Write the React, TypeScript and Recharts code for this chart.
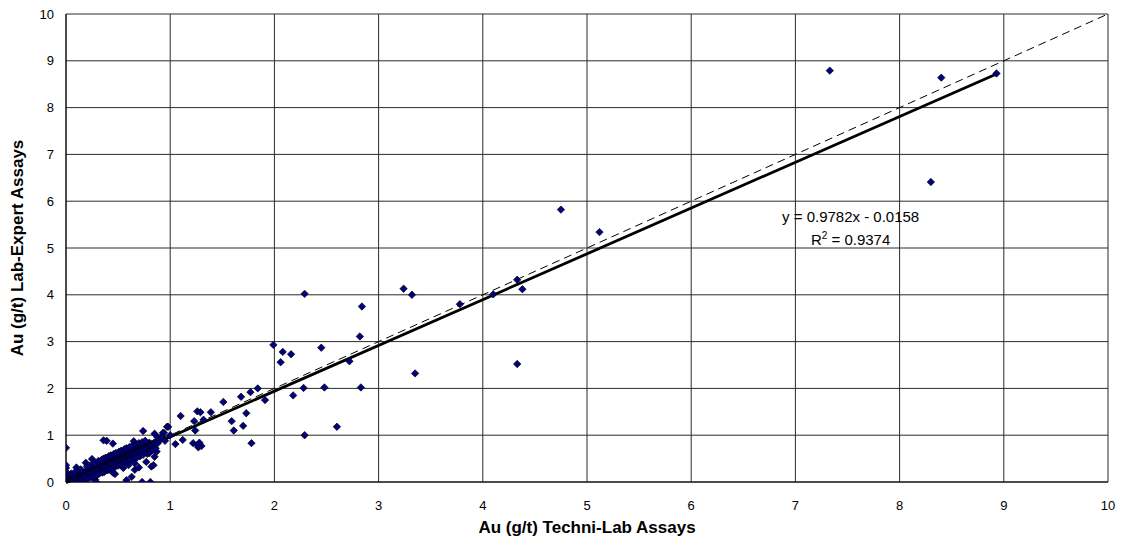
import React from 'react';
import { ScatterChart, Scatter, XAxis, YAxis, CartesianGrid, ReferenceLine, ReferenceDot } from 'recharts';

// Techni-Lab (x) vs Lab-Expert (y) gold assays, g/t
const lowGradePairs: [number, number][] = [
  [0, 0], [0, 0.03], [0, 0.08], [0, 0.15], [0, 0.22], [0, 0.3], [0, 0.36], [0, 0.73], [0, 0.01],
  [0.01, 0.02], [0.01, 0.06], [0.01, 0], [0.02, 0.01], [0.02, 0.04], [0.02, 0.1],
  [0.03, 0], [0.03, 0.05], [0.03, 0.02], [0.04, 0.03], [0.04, 0.08], [0.04, 0],
  [0.05, 0.02], [0.05, 0.06], [0.05, 0.12], [0.06, 0.04], [0.06, 0.09], [0.06, 0],
  [0.07, 0.05], [0.07, 0.1], [0.07, 0.02], [0.08, 0.07], [0.08, 0.03], [0.08, 0.13],
  [0.09, 0.08], [0.09, 0.11], [0.09, 0], [0.1, 0.31], [0.1, 0.09], [0.1, 0.14], [0.1, 0.05],
  [0.11, 0.1], [0.11, 0.07], [0.12, 0.12], [0.12, 0], [0.12, 0.16], [0.13, 0.11], [0.13, 0.18],
  [0.14, 0.13], [0.14, 0.08], [0.15, 0.15], [0.15, 0.22], [0.15, 0.1], [0.16, 0.14], [0.16, 0.18],
  [0.17, 0.16], [0.17, 0.12], [0.17, 0.02], [0.18, 0.17], [0.18, 0.21], [0.19, 0.41], [0.19, 0.18],
  [0.19, 0.14], [0.2, 0.2], [0.2, 0.24], [0.21, 0.19], [0.21, 0.15], [0.22, 0.21], [0.22, 0.26],
  [0.23, 0.22], [0.23, 0.18], [0.23, 0.29], [0.24, 0.24], [0.24, 0.2], [0.25, 0.49], [0.25, 0.25],
  [0.25, 0.28], [0.26, 0.23], [0.26, 0.3], [0.27, 0.26], [0.27, 0.21], [0.28, 0.27], [0.28, 0.32],
  [0.28, 0.05], [0.29, 0.28], [0.29, 0], [0.29, 0.24], [0.3, 0.3], [0.3, 0.34], [0.31, 0.29],
  [0.31, 0.26], [0.32, 0.31], [0.32, 0.36], [0.33, 0.33], [0.33, 0.28], [0.34, 0.32], [0.34, 0.38],
  [0.35, 0.35], [0.35, 0.3], [0.35, 0.42], [0.36, 0.89], [0.36, 0.34], [0.36, 0.38], [0.37, 0.36],
  [0.37, 0.31], [0.38, 0.37], [0.38, 0.42], [0.38, 0.25], [0.39, 0.88], [0.39, 0.38], [0.39, 0.34],
  [0.4, 0.4], [0.4, 0.45], [0.41, 0.39], [0.41, 0.35], [0.42, 0.41], [0.42, 0.46], [0.43, 0.42],
  [0.43, 0.38], [0.44, 0.44], [0.44, 0.5], [0.45, 0.82], [0.45, 0.43], [0.45, 0.38], [0.46, 0.45],
  [0.46, 0.49], [0.47, 0.17], [0.47, 0.46], [0.47, 0.42], [0.48, 0.47], [0.48, 0.52], [0.49, 0.48],
  [0.49, 0.43], [0.5, 0.5], [0.5, 0.55], [0.5, 0.45], [0.51, 0.49], [0.51, 0.53], [0.52, 0.51],
  [0.52, 0.46], [0.53, 0.52], [0.53, 0.57], [0.54, 0.53], [0.54, 0.49], [0.55, 0.55], [0.55, 0.6],
  [0.55, 0.5], [0.56, 0.54], [0.56, 0.58], [0.57, 0.56], [0.57, 0.51], [0.58, 0.04], [0.58, 0.57],
  [0.58, 0.62], [0.59, 0.58], [0.59, 0.53], [0.6, 0.6], [0.6, 0.64], [0.6, 0.55], [0.61, 0.59],
  [0.61, 0.56], [0.62, 0.61], [0.62, 0.66], [0.63, 0.11], [0.63, 0.62], [0.63, 0.58], [0.64, 0.63],
  [0.64, 0.68], [0.65, 0.87], [0.65, 0.64], [0.65, 0.6], [0.66, 0.26], [0.66, 0.65], [0.66, 0.7],
  [0.67, 0.66], [0.67, 0.62], [0.68, 0.67], [0.68, 0.72], [0.69, 0.68], [0.69, 0.63], [0.7, 0.31],
  [0.7, 0.69], [0.7, 0.74], [0.71, 0.7], [0.71, 0.65], [0.72, 0.71], [0.72, 0.76], [0.73, 0],
  [0.73, 0.72], [0.73, 0.67], [0.74, 1.09], [0.74, 0.73], [0.75, 0.74], [0.75, 0.69], [0.76, 0.75],
  [0.76, 0.8], [0.77, 0.43], [0.77, 0.76], [0.78, 0.77], [0.78, 0.72], [0.79, 0.78], [0.8, 0.79],
  [0.8, 0.84], [0.81, 0], [0.81, 0.8], [0.82, 0.33], [0.82, 0.81], [0.84, 0.36], [0.84, 0.83],
  [0.85, 0.54], [0.85, 1.03], [0.85, 0.84], [0.87, 0.65], [0.87, 0.86], [0.88, 0.83], [0.9, 0.93],
  [0.9, 0.9], [0.92, 0.97], [0.93, 1.05], [0.95, 0.88], [0.97, 1.18], [1.0, 1.0],
  // scatter either side of the main band
  [0.05, 0.18], [0.08, 0.2], [0.12, 0.25], [0.14, 0.27], [0.16, 0.05], [0.18, 0.08], [0.2, 0.33],
  [0.21, 0.07], [0.22, 0.35], [0.24, 0.1], [0.26, 0.4], [0.27, 0.13], [0.28, 0.4], [0.3, 0.15],
  [0.31, 0.45], [0.32, 0.18], [0.34, 0.47], [0.35, 0.2], [0.36, 0.5], [0.37, 0.22], [0.38, 0.52],
  [0.4, 0.25], [0.41, 0.55], [0.42, 0.27], [0.43, 0.57], [0.44, 0.3], [0.46, 0.6], [0.47, 0.32],
  [0.48, 0.62], [0.5, 0.35], [0.51, 0.65], [0.52, 0.37], [0.53, 0.67], [0.55, 0.4], [0.56, 0.7],
  [0.57, 0.42], [0.58, 0.72], [0.6, 0.44], [0.61, 0.75], [0.62, 0.47], [0.64, 0.78], [0.65, 0.5],
  [0.67, 0.8], [0.68, 0.52], [0.7, 0.83], [0.71, 0.55], [0.73, 0.85], [0.74, 0.58], [0.76, 0.88],
  [0.78, 0.6], [0.8, 0.62], [0.83, 0.68], [0.86, 0.72], [0.88, 0.95], [0.6, 0.36], [0.55, 0.3],
  [0.45, 0.2], [0.66, 0.4],
];

const highGradePairs: [number, number][] = [
  [7.33, 8.79], [8.4, 8.64], [8.3, 6.41], [8.93, 8.73], [4.75, 5.82], [5.12, 5.34],
  [4.33, 4.32], [4.38, 4.12], [4.33, 2.52], [4.1, 4.01], [3.78, 3.8], [3.24, 4.13],
  [3.32, 4.0], [3.35, 2.32], [2.84, 3.75], [2.82, 3.11], [2.83, 2.02], [2.29, 4.02],
  [2.45, 2.87], [2.72, 2.58], [2.28, 2.01], [2.48, 2.02], [2.29, 1.0], [2.6, 1.18],
  [1.99, 2.93], [2.06, 2.56], [2.08, 2.78], [2.16, 2.73], [2.18, 1.85], [1.91, 1.75],
  [1.84, 2.0], [1.77, 1.92], [1.68, 1.82], [1.51, 1.71], [1.39, 1.49], [1.73, 1.47],
  [1.59, 1.3], [1.7, 1.2], [1.61, 1.1], [1.78, 0.83], [1.26, 1.51], [1.29, 1.49],
  [1.32, 1.33], [1.23, 1.3], [1.1, 1.41], [1.24, 1.1], [1.12, 0.9], [1.22, 0.83],
  [1.26, 0.79], [1.27, 0.74], [1.3, 0.77], [1.28, 0.84], [1.05, 0.81], [0.98, 1.18],
  [0.94, 1.05], [0.92, 0.97],
];

const axisTicks = [0, 1, 2, 3, 4, 5, 6, 7, 8, 9, 10];

// linear trend fitted in the spreadsheet
const slope = 0.9782;
const intercept = -0.0158;
const rSquared = 0.9374;

const assays = [...lowGradePairs, ...highGradePairs].map(([x, y]) => ({ x, y }));
const maxX = Math.max(...assays.map(d => d.x));

const FONT = '"Liberation Sans", Arial, sans-serif';

const Diamond = (props: any) => {
  const { cx, cy } = props;
  if (cx == null || cy == null) return null;
  const s = 3.7;
  return <path d={`M${cx},${cy - s}L${cx + s},${cy}L${cx},${cy + s}L${cx - s},${cy}Z`} fill="#000080" stroke="#000" strokeWidth={0.7} />;
};

const YTitle = ({ viewBox }: any) => {
  const cx = viewBox.x + 17;
  const cy = viewBox.y + viewBox.height / 2;
  return (
    <text x={cx} y={cy} transform={`rotate(-90, ${cx}, ${cy})`} textAnchor="middle" dominantBaseline="central"
      fontFamily={FONT} fontSize={17} fontWeight="bold" fill="#000">Au (g/t) Lab-Expert Assays</text>
  );
};

const XTitle = ({ viewBox }: any) => (
  <text x={viewBox.x + viewBox.width / 2} y={viewBox.y + 51} textAnchor="middle"
    fontFamily={FONT} fontSize={17} fontWeight="bold" fill="#000">Au (g/t) Techni-Lab Assays</text>
);

const TrendLabel = ({ viewBox }: any) => {
  const x = viewBox.x + viewBox.width / 2;
  const y = viewBox.y + viewBox.height / 2;
  return (
    <g fontFamily={FONT} fontSize={15} fill="#000" textAnchor="middle">
      <text x={x} y={y - 6}>{`y = ${slope}x - ${Math.abs(intercept)}`}</text>
      <text x={x} y={y + 17}>R<tspan dy={-6} fontSize={10}>2</tspan><tspan dy={6}>{` = ${rSquared}`}</tspan></text>
    </g>
  );
};

export default function App() {
  const tickStyle = { fontFamily: FONT, fontSize: 13, fill: '#000' };
  return (
    <div style={{ position: 'absolute', left: 0, top: 0, background: '#fff' }}>
      <ScatterChart width={1121} height={545} margin={{ top: 14, right: 13, bottom: 0, left: 0 }}>
        <CartesianGrid stroke="#2a2a2a" strokeWidth={1} />
        <XAxis type="number" dataKey="x" domain={[0, 10]} ticks={axisTicks} allowDataOverflow
          height={63} tickLine={false} tickMargin={13} axisLine={{ stroke: '#000' }} tick={tickStyle}
          label={<XTitle />} />
        <YAxis type="number" dataKey="y" domain={[0, 10]} ticks={axisTicks} allowDataOverflow
          width={66} tickLine={false} tickMargin={6} axisLine={{ stroke: '#000' }} tick={tickStyle}
          label={<YTitle />} />
        <Scatter data={assays} shape={<Diamond />} isAnimationActive={false} />
        <ReferenceLine segment={[{ x: 0, y: 0 }, { x: 10, y: 10 }]} stroke="#000" strokeWidth={1}
          strokeDasharray="8 5" ifOverflow="visible" />
        <ReferenceLine segment={[{ x: 0, y: intercept }, { x: maxX, y: slope * maxX + intercept }]}
          stroke="#000" strokeWidth={2.8} ifOverflow="visible" />
        <ReferenceDot x={7.53} y={5.42} r={0} fill="none" stroke="none" ifOverflow="visible"
          label={<TrendLabel />} />
      </ScatterChart>
    </div>
  );
}
